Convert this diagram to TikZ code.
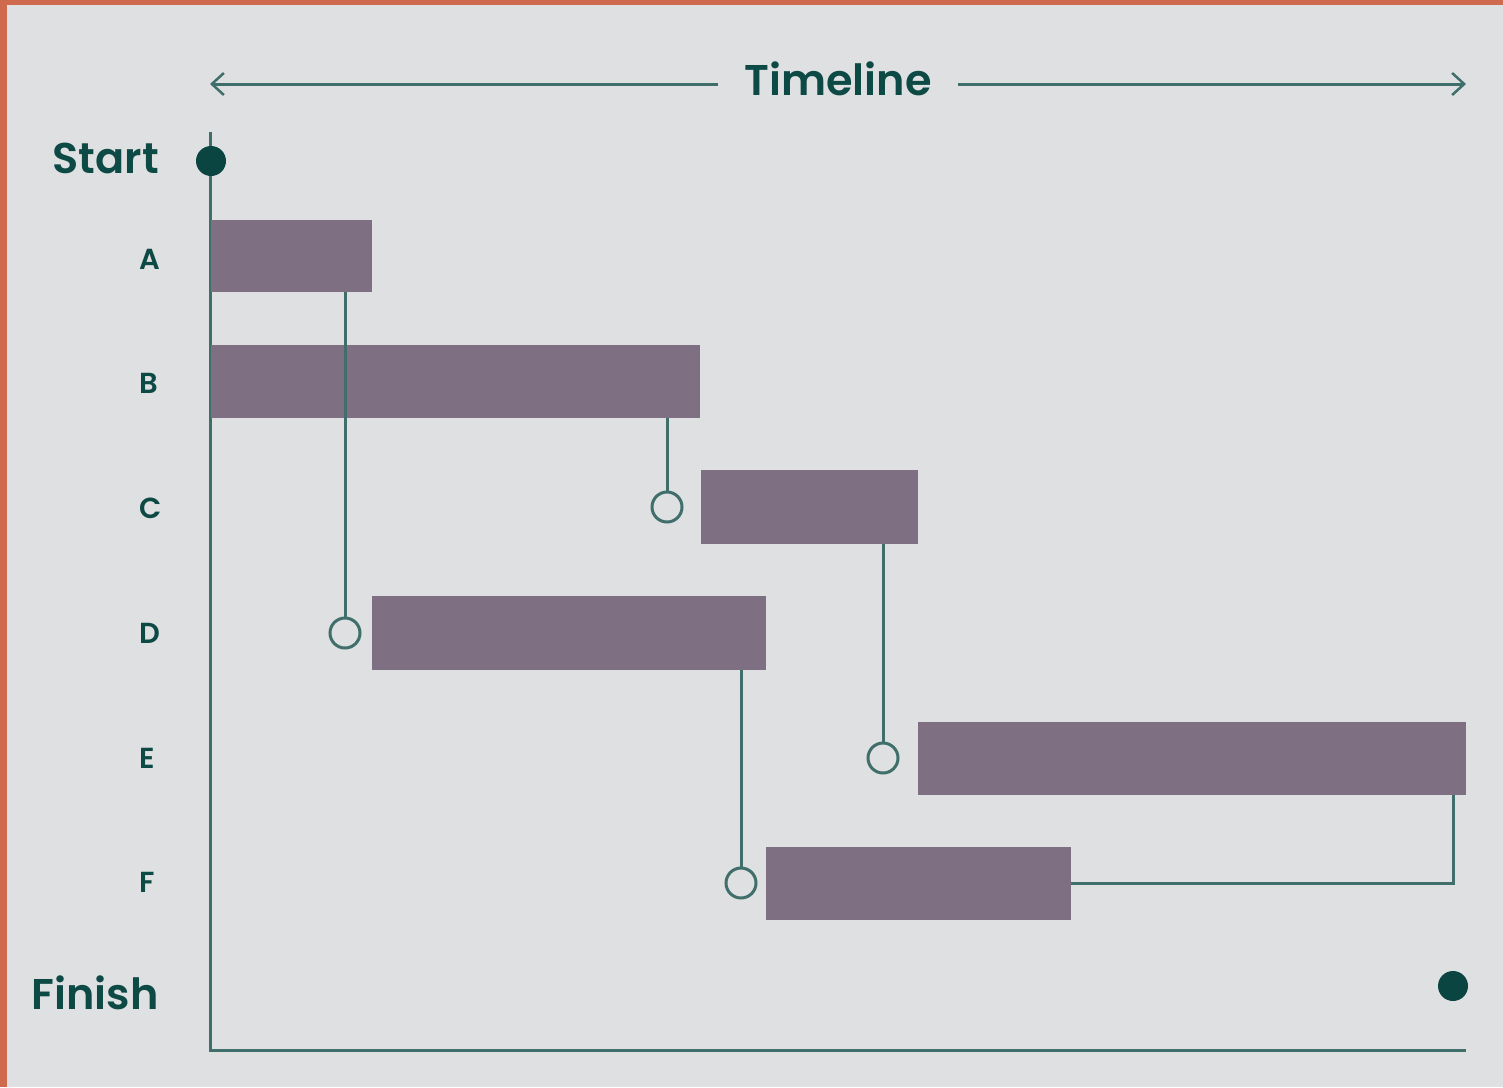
\documentclass[tikz,border=0pt]{standalone}
\usepackage{fontspec}
\setmainfont{Poppins}[BoldFont={Poppins SemiBold}]
\usetikzlibrary{arrows.meta}
\definecolor{bg}{HTML}{DFE0E1}
\definecolor{framec}{HTML}{D06A4E}
\definecolor{barc}{HTML}{7E6F82}
\definecolor{linec}{HTML}{3F6E6B}
\definecolor{dotc}{HTML}{0B4541}
\definecolor{txt}{HTML}{0E4A45}
\begin{document}
\begin{tikzpicture}[x=1pt,y=-1pt,
  bar/.style={fill=barc, draw=none, inner sep=0pt, outer sep=0pt, anchor=north west},
  conn/.style={draw=linec, line width=3pt},
  hole/.style={circle, draw=linec, line width=3pt, fill=bg, minimum size=30pt, inner sep=0pt},
  dotn/.style={circle, fill=dotc, minimum size=30pt, inner sep=0pt},
  big/.style={text=txt, font=\bfseries\fontsize{43}{50}\selectfont, inner sep=0pt},
  rowlab/.style={text=txt, font=\bfseries\fontsize{29}{34}\selectfont, inner sep=0pt, anchor=west},
  tip/.style={-{Straight Barb[length=12pt,width=22pt,line width=2.5pt]}}
]
\useasboundingbox (0,0) rectangle (1503,1087);
\fill[framec] (0,0) rectangle (1503,1087);
\fill[bg] (7,5) rectangle (1503,1087);

% timeline header
\node[big, inner xsep=26pt] (tl) at (838,79) {Timeline};
\coordinate (tlL) at (210,84);
\coordinate (tlR) at (1466,84);
\draw[conn, tip] (tl.west |- tlL) -- (tlL);
\draw[conn, tip] (tl.east |- tlR) -- (tlR);

% axes
\coordinate (axTop) at (210,132);
\coordinate (axCorner) at (210,1050);
\coordinate (axEnd) at (1466,1050);
\draw[conn] (axTop) -- (axCorner) -- (axEnd);

% start / finish
\node[big, anchor=east] (start) at (159,158) {Start};
\node[big, anchor=east] (finish) at (159,993) {Finish};
\node[dotn] (sdot) at (211,161) {};
\node[dotn] (fdot) at (1453,986) {};

% row labels
\node[rowlab] (lA) at (139,259) {A};
\node[rowlab] (lB) at (139,383) {B};
\node[rowlab] (lC) at (139,508) {C};
\node[rowlab] (lD) at (139,633) {D};
\node[rowlab] (lE) at (139,758) {E};
\node[rowlab] (lF) at (139,882) {F};

% bars
\node[bar, minimum width=161pt, minimum height=72pt] (A) at (211,220) {};
\node[bar, minimum width=489pt, minimum height=73pt] (B) at (211,345) {};
\node[bar, minimum width=217pt, minimum height=74pt] (C) at (701,470) {};
\node[bar, minimum width=394pt, minimum height=74pt] (D) at (372,596) {};
\node[bar, minimum width=548pt, minimum height=73pt] (E) at (918,722) {};
\node[bar, minimum width=305pt, minimum height=73pt] (F) at (766,847) {};

% dependency circles
\node[hole] (cD) at (345,633) {};
\node[hole] (cC) at (667,507) {};
\node[hole] (cE) at (883,758) {};
\node[hole] (cF) at (741,883) {};

% connectors
\draw[conn] (cD.north) -- (cD.north |- A.south);
\draw[conn] (cC.north) -- (cC.north |- B.south);
\draw[conn] (cE.north) -- (cE.north |- C.south);
\draw[conn] (cF.north) -- (cF.north |- D.south);
\draw[conn] (F.east) -| ([xshift=-13pt]E.south east);
\end{tikzpicture}
\end{document}
